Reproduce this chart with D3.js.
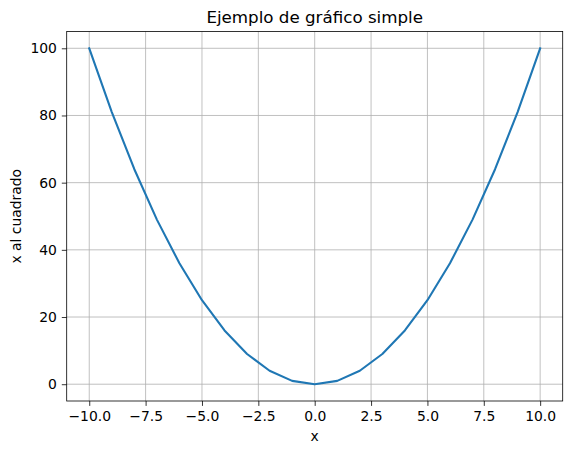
<!DOCTYPE html>
<html><head><meta charset="utf-8">
<script src="https://cdn.jsdelivr.net/npm/d3@7"></script>
<style>body{margin:0;background:#fff}svg{display:block;font-family:"DejaVu Sans",sans-serif}</style>
</head><body><svg id="c" width="571" height="454"></svg>
<script>
const xValues = [-10,-9,-8,-7,-6,-5,-4,-3,-2,-1,0,1,2,3,4,5,6,7,8,9,10];
const yValues = [100,81,64,49,36,25,16,9,4,1,0,1,4,9,16,25,36,49,64,81,100];
const xTicks = [-10,-7.5,-5,-2.5,0,2.5,5,7.5,10];
const yTicks = [0,20,40,60,80,100];
const title = "Ejemplo de gráfico simple";
const xLabel = "x";
const yLabel = "x al cuadrado";

const svg = d3.select("#c");
const L = 66.7, R = 562.7, T = 31.5, B = 401;
const x = d3.scaleLinear().domain([-11, 11]).range([L, R]);
const y = d3.scaleLinear().domain([-5, 105]).range([B, T]);
const fmtX = d => d.toFixed(1).replace("-", "\u2212");

// grid
svg.append("g").selectAll("line").data(xTicks).join("line")
  .attr("x1", d => x(d)).attr("x2", d => x(d)).attr("y1", T).attr("y2", B)
  .attr("stroke", "#b0b0b0").attr("stroke-width", 0.8);
svg.append("g").selectAll("line").data(yTicks).join("line")
  .attr("y1", d => y(d)).attr("y2", d => y(d)).attr("x1", L).attr("x2", R)
  .attr("stroke", "#b0b0b0").attr("stroke-width", 0.8);

// line
svg.append("path").datum(xValues.map((v, i) => [v, yValues[i]]))
  .attr("d", d3.line().x(d => x(d[0])).y(d => y(d[1])))
  .attr("fill", "none").attr("stroke", "#1f77b4").attr("stroke-width", 2.1)
  .attr("stroke-linejoin", "round").attr("stroke-linecap", "square");

// axes
const xa = svg.append("g").attr("transform", `translate(0,${B})`)
  .call(d3.axisBottom(x).tickValues(xTicks).tickFormat(fmtX).tickSizeOuter(0).tickSize(4.9).tickPadding(4.9));
const ya = svg.append("g").attr("transform", `translate(${L},0)`)
  .call(d3.axisLeft(y).tickValues(yTicks).tickFormat(d => d).tickSizeOuter(0).tickSize(4.9).tickPadding(4.9));
[xa, ya].forEach(a => {
  a.select(".domain").remove();
  a.selectAll(".tick line").attr("stroke", "#000").attr("stroke-width", 0.8);
  a.selectAll(".tick text").attr("font-size", 13.9).attr("fill", "#000").attr("font-family", "DejaVu Sans");
});

// frame
svg.append("rect").attr("x", L).attr("y", T).attr("width", R - L).attr("height", B - T)
  .attr("fill", "none").attr("stroke", "#000").attr("stroke-width", 0.8);

// labels
svg.append("text").attr("x", (L + R) / 2).attr("y", 23).attr("text-anchor", "middle")
  .attr("font-size", 16.7).text(title);
svg.append("text").attr("x", (L + R) / 2).attr("y", 441).attr("text-anchor", "middle")
  .attr("font-size", 13.9).text(xLabel);
svg.append("text").attr("transform", `translate(21,${(T + B) / 2}) rotate(-90)`).attr("text-anchor", "middle")
  .attr("font-size", 13.9).text(yLabel);
</script></body></html>
